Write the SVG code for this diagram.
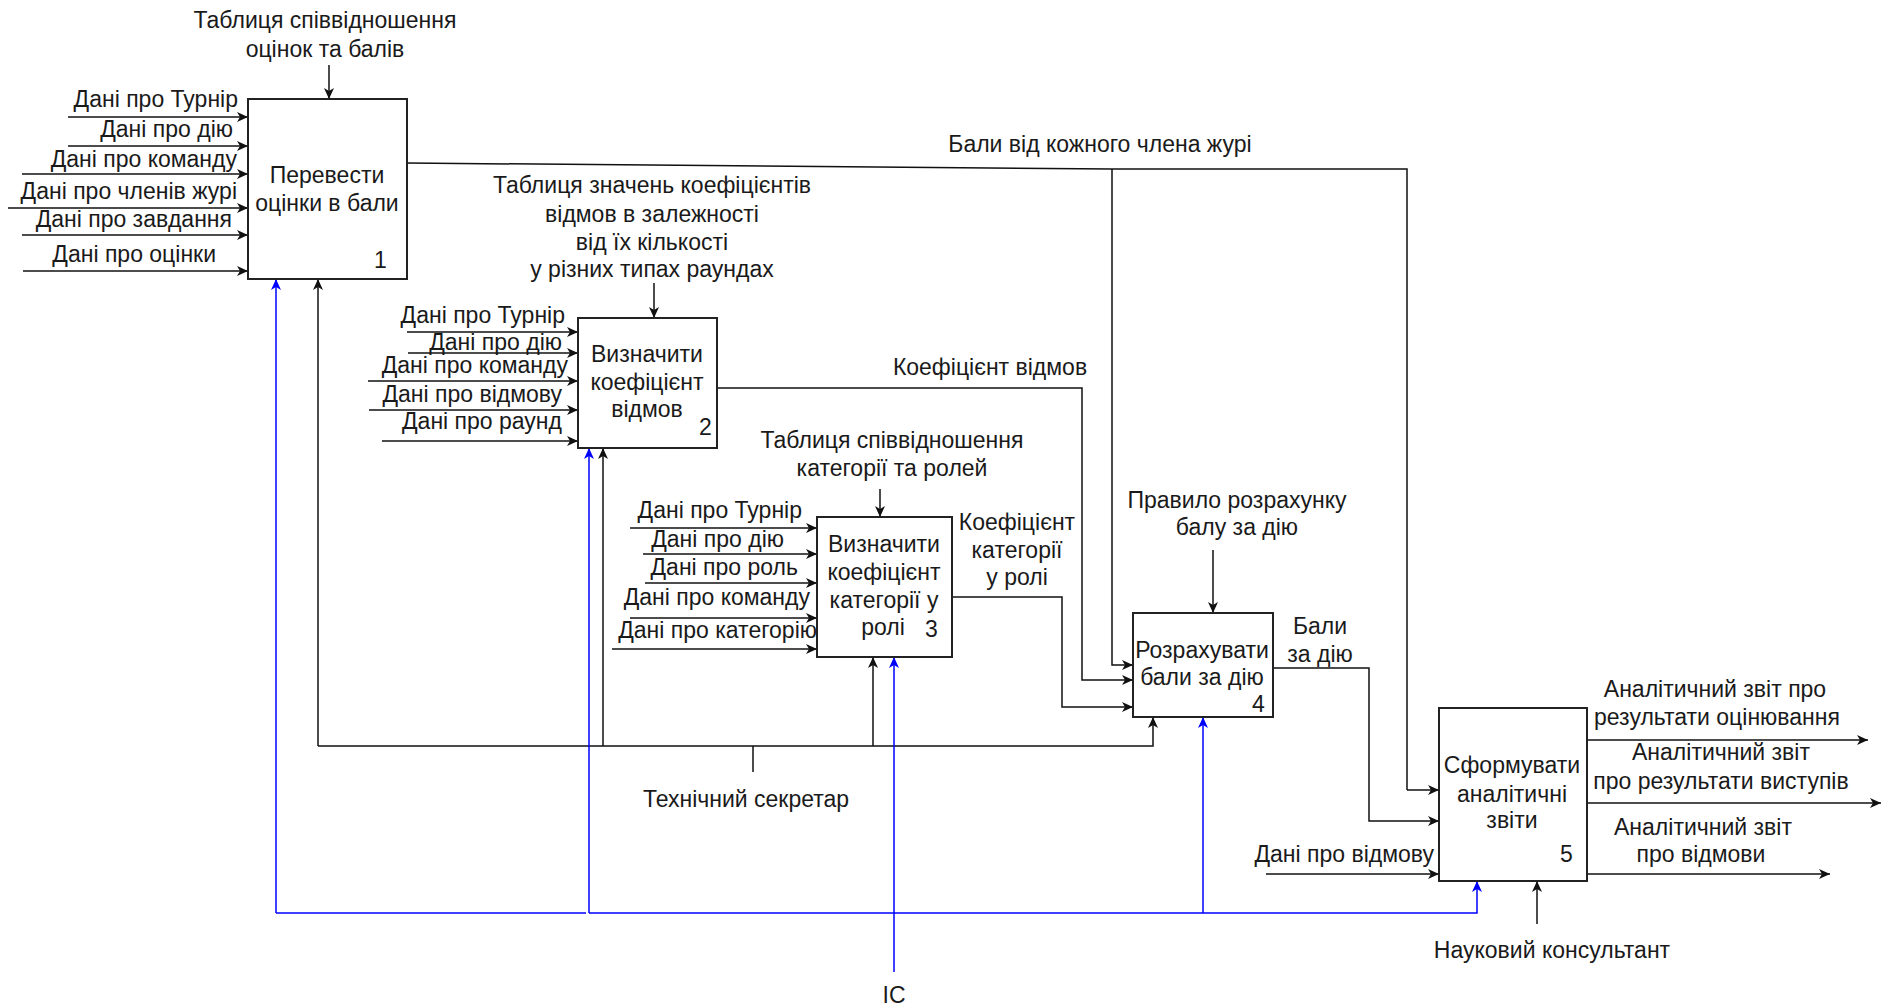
<svg xmlns="http://www.w3.org/2000/svg" width="1883" height="1006" viewBox="0 0 1883 1006">
  <style>
    text { font-family: "Liberation Sans", Arial, sans-serif; font-size: 23px; fill: #1a1a1a; }
    .c { text-anchor: middle; }
    .r { text-anchor: end; }
    .box { fill: #ffffff; stroke: #222222; stroke-width: 2; }
    .ln { fill: none; stroke: #111111; stroke-width: 1.5; }
    .ar { fill: none; stroke: #111111; stroke-width: 1.5; marker-end: url(#ah); }
    .bl { fill: none; stroke: #0000ff; stroke-width: 1.5; }
    .ba { fill: none; stroke: #0000ff; stroke-width: 1.5; marker-end: url(#ahb); }
  </style>
  <defs>
    <marker id="ah" markerUnits="userSpaceOnUse" markerWidth="12" markerHeight="10" refX="11" refY="5" orient="auto">
      <path d="M0,0 L11,5 L0,10 L3,5 Z" fill="#111111"/>
    </marker>
    <marker id="ahb" markerUnits="userSpaceOnUse" markerWidth="12" markerHeight="10" refX="11" refY="5" orient="auto">
      <path d="M0,0 L11,5 L0,10 L3,5 Z" fill="#0000ff"/>
    </marker>
  </defs>
  <rect width="1883" height="1006" fill="#ffffff"/>

  <!-- connectors -->
  <g id="connectors">
    <!-- box 1 inputs -->
    <path class="ar" d="M68,117 L248,117"/>
    <path class="ar" d="M68,146 L248,146"/>
    <path class="ar" d="M22,174 L248,174"/>
    <path class="ar" d="M8,208 L248,208"/>
    <path class="ar" d="M22,235 L248,235"/>
    <path class="ar" d="M23,271 L248,271"/>
    <path class="ar" d="M329,65 L329,99"/>
    <!-- box 2 inputs -->
    <path class="ar" d="M407,332 L578,332"/>
    <path class="ar" d="M408,353 L578,353"/>
    <path class="ar" d="M368,381 L578,381"/>
    <path class="ar" d="M369,410 L578,410"/>
    <path class="ar" d="M382,441 L578,441"/>
    <path class="ar" d="M654,283 L654,318"/>
    <!-- box 3 inputs -->
    <path class="ar" d="M630,528 L817,528"/>
    <path class="ar" d="M643,554 L817,554"/>
    <path class="ar" d="M645,583 L817,583"/>
    <path class="ar" d="M630,618 L817,618"/>
    <path class="ar" d="M612,649 L817,649"/>
    <path class="ar" d="M880,489 L880,517"/>
    <!-- box 4 control -->
    <path class="ar" d="M1213,550 L1213,613"/>
    <!-- outputs -->
    <path class="ln" d="M407,163 L1112,169 L1407,169 L1407,790"/>
    <path class="ar" d="M1407,790 L1439,790"/>
    <path class="ar" d="M1112,169 L1112,665 L1133,665"/>
    <path class="ar" d="M717,388 L1082,388 L1082,680 L1133,680"/>
    <path class="ar" d="M952,597 L1062,597 L1062,707 L1133,707"/>
    <path class="ar" d="M1273,668 L1369,668 L1369,821 L1439,821"/>
    <path class="ar" d="M1266,874 L1439,874"/>
    <path class="ar" d="M1587,740 L1868,740"/>
    <path class="ar" d="M1587,803 L1881,803"/>
    <path class="ar" d="M1587,874 L1830,874"/>
    <!-- mechanism: technical secretary -->
    <path class="ar" d="M318,746 L1153,746 L1153,717"/>
    <path class="ar" d="M318,746 L318,279"/>
    <path class="ar" d="M603,746 L603,448"/>
    <path class="ar" d="M873,746 L873,657"/>
    <path class="ln" d="M753,746 L753,772"/>
    <!-- mechanism: scientific consultant -->
    <path class="ar" d="M1537,924 L1537,881"/>
    <!-- mechanism: IS (blue) -->
    <path class="bl" d="M276,913 L586,913"/>
    <path class="ba" d="M276,913 L276,279"/>
    <path class="ba" d="M589,913 L1477,913 L1477,881"/>
    <path class="ba" d="M589,913 L589,448"/>
    <path class="ba" d="M1203,913 L1203,717"/>
    <path class="ba" d="M894,972 L894,657"/>
  </g>

  <!-- connector labels -->
  <g id="labels">
    <text class="c" x="325" y="28">Таблиця співвідношення</text>
    <text class="c" x="325" y="57">оцінок та балів</text>
    <text class="r" x="238" y="107">Дані про Турнір</text>
    <text class="r" x="233" y="137">Дані про дію</text>
    <text class="r" x="237" y="167">Дані про команду</text>
    <text class="r" x="237" y="199">Дані про членів журі</text>
    <text class="r" x="232" y="227">Дані про завдання</text>
    <text class="r" x="216" y="262">Дані про оцінки</text>

    <text class="c" x="1100" y="152">Бали від кожного члена журі</text>

    <text class="c" x="652" y="193">Таблиця значень коефіцієнтів</text>
    <text class="c" x="652" y="222">відмов в залежності</text>
    <text class="c" x="652" y="250">від їх кількості</text>
    <text class="c" x="652" y="277">у різних типах раундах</text>
    <text class="r" x="565" y="323">Дані про Турнір</text>
    <text class="r" x="562" y="350">Дані про дію</text>
    <text class="r" x="568" y="373">Дані про команду</text>
    <text class="r" x="562" y="402">Дані про відмову</text>
    <text class="r" x="562" y="429">Дані про раунд</text>

    <text class="c" x="990" y="375">Коефіцієнт відмов</text>

    <text class="c" x="892" y="448">Таблиця співвідношення</text>
    <text class="c" x="892" y="476">категорії та ролей</text>
    <text class="r" x="802" y="518">Дані про Турнір</text>
    <text class="r" x="784" y="547">Дані про дію</text>
    <text class="r" x="798" y="575">Дані про роль</text>
    <text class="r" x="810" y="605">Дані про команду</text>
    <text class="r" x="817" y="638">Дані про категорію</text>

    <text class="c" x="1017" y="530">Коефіцієнт</text>
    <text class="c" x="1017" y="558">категорії</text>
    <text class="c" x="1017" y="585">у ролі</text>

    <text class="c" x="1237" y="508">Правило розрахунку</text>
    <text class="c" x="1237" y="535">балу за дію</text>

    <text class="c" x="1320" y="634">Бали</text>
    <text class="c" x="1320" y="662">за дію</text>

    <text class="r" x="1434" y="862">Дані про відмову</text>

    <text class="c" x="1715" y="697">Аналітичний звіт про</text>
    <text class="c" x="1717" y="725">результати оцінювання</text>
    <text class="c" x="1721" y="760">Аналітичний звіт</text>
    <text class="c" x="1721" y="789">про результати виступів</text>
    <text class="c" x="1703" y="835">Аналітичний звіт</text>
    <text class="c" x="1701" y="862">про відмови</text>

    <text class="c" x="746" y="807">Технічний секретар</text>
    <text class="c" x="1552" y="958">Науковий консультант</text>
    <text class="c" x="894" y="1003">IC</text>
  </g>

  <!-- activity boxes -->
  <g id="node1">
    <rect class="box" x="248" y="99" width="159" height="180"/>
    <text class="c" x="327" y="183">Перевести</text>
    <text class="c" x="327" y="211">оцінки в бали</text>
    <text x="374" y="268">1</text>
  </g>
  <g id="node2">
    <rect class="box" x="578" y="318" width="139" height="130"/>
    <text class="c" x="647" y="362">Визначити</text>
    <text class="c" x="647" y="390">коефіцієнт</text>
    <text class="c" x="647" y="417">відмов</text>
    <text x="699" y="435">2</text>
  </g>
  <g id="node3">
    <rect class="box" x="817" y="517" width="135" height="140"/>
    <text class="c" x="884" y="552">Визначити</text>
    <text class="c" x="884" y="580">коефіцієнт</text>
    <text class="c" x="884" y="608">категорії у</text>
    <text class="c" x="883" y="635">ролі</text>
    <text x="925" y="637">3</text>
  </g>
  <g id="node4">
    <rect class="box" x="1133" y="613" width="140" height="104"/>
    <text class="c" x="1202" y="658">Розрахувати</text>
    <text class="c" x="1202" y="685">бали за дію</text>
    <text x="1252" y="712">4</text>
  </g>
  <g id="node5">
    <rect class="box" x="1439" y="708" width="148" height="173"/>
    <text class="c" x="1512" y="773">Сформувати</text>
    <text class="c" x="1512" y="802">аналітичні</text>
    <text class="c" x="1512" y="828">звіти</text>
    <text x="1560" y="862">5</text>
  </g>
</svg>
